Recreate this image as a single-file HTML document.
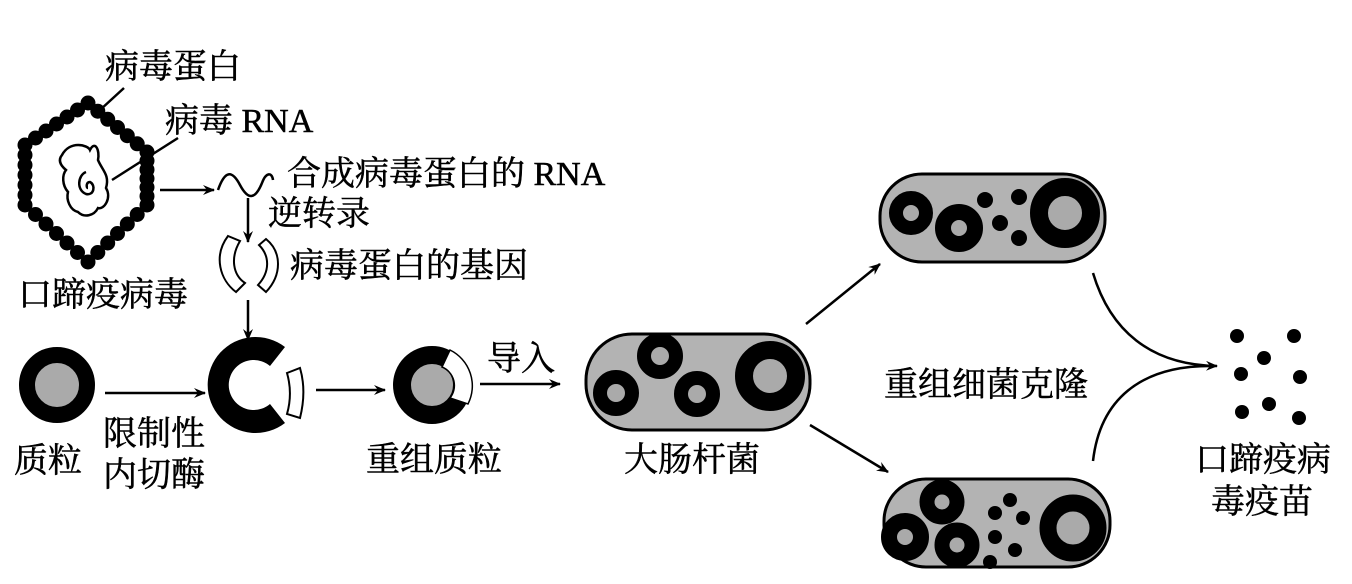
<!DOCTYPE html>
<html><head><meta charset="utf-8"><style>
html,body{margin:0;padding:0;background:#fff;}
svg{display:block;}
text{font-family:"Liberation Serif","Noto Serif CJK SC","Noto Sans CJK SC",serif;font-size:34px;fill:#000;stroke:#000;stroke-width:0.5;}
</style></head><body>
<svg width="1352" height="584" viewBox="0 0 1352 584" xmlns="http://www.w3.org/2000/svg">
<defs>
<marker id="ah" markerWidth="12" markerHeight="10" refX="11" refY="5" orient="auto" markerUnits="userSpaceOnUse">
<path d="M0,0 L12,5 L0,10 L4,5 Z" fill="#000"/>
</marker>
</defs>
<g stroke="#000" stroke-width="2.5" fill="none">
<line x1="100" y1="110" x2="124" y2="88"/>
<line x1="112" y1="180" x2="178" y2="138"/>
<path d="M62,155 C70,140 88,145 90,150 C95,140 100,150 98,160 C102,170 110,175 106,188 C112,198 104,210 98,208 C94,216 84,218 78,212 C70,210 66,200 68,192 C62,185 62,175 66,170 C60,165 58,160 62,155 Z"/>
<path d="M86,172 C78,175 76,190 86,194 C94,196 96,185 90,182 C86,182 86,188 88,188"/>
<line x1="160" y1="190" x2="214" y2="190" marker-end="url(#ah)"/>
<path d="M218,190 C225,170 232,170 240,185 C248,200 255,200 262,183 C266,172 272,172 273,180"/>
<line x1="248" y1="198" x2="248" y2="242" marker-end="url(#ah)"/>
<line x1="248" y1="300" x2="248" y2="340" marker-end="url(#ah)"/>
<line x1="105" y1="393" x2="205" y2="393" marker-end="url(#ah)"/>
<line x1="316" y1="390" x2="385" y2="390" marker-end="url(#ah)"/>
<line x1="480" y1="384" x2="560" y2="384" marker-end="url(#ah)"/>
<line x1="806" y1="324" x2="880" y2="264" marker-end="url(#ah)"/>
<line x1="810" y1="425" x2="888" y2="472" marker-end="url(#ah)"/>
<path d="M1093,273 C1110,330 1150,365 1217,366" marker-end="url(#ah)"/>
<path d="M1093,461 C1100,400 1140,366 1210,366"/>
</g>
<g stroke="#000" stroke-width="2" fill="#fff">
<path d="M228,236 L240,241 C230,258 233,275 245,283 L236,292 C220,280 213,256 228,236 Z"/>
<path d="M266,239 C282,252 282,275 266,292 L258,285 C270,272 270,256 259,245 Z"/>
<path d="M287,373 L300,368 C305,385 304,402 300,418 L287,414 C291,400 291,387 287,373 Z"/>
</g>
<g fill="#000">
<circle cx="88" cy="103" r="7.5"/><circle cx="97.8" cy="111.2" r="7.5"/><circle cx="107.7" cy="119.3" r="7.5"/><circle cx="117.5" cy="127.5" r="7.5"/><circle cx="127.3" cy="135.7" r="7.5"/><circle cx="137.2" cy="143.8" r="7.5"/>
<circle cx="147" cy="152" r="7.5"/><circle cx="147" cy="160.8" r="7.5"/><circle cx="147" cy="169.7" r="7.5"/><circle cx="147" cy="178.5" r="7.5"/><circle cx="147" cy="187.3" r="7.5"/><circle cx="147" cy="196.2" r="7.5"/>
<circle cx="147" cy="205" r="7.5"/><circle cx="137.2" cy="214.5" r="7.5"/><circle cx="127.3" cy="224" r="7.5"/><circle cx="117.5" cy="233.5" r="7.5"/><circle cx="107.7" cy="243" r="7.5"/><circle cx="97.8" cy="252.5" r="7.5"/>
<circle cx="88" cy="262" r="7.5"/><circle cx="77.5" cy="252.5" r="7.5"/><circle cx="67" cy="243" r="7.5"/><circle cx="56.5" cy="233.5" r="7.5"/><circle cx="46" cy="224" r="7.5"/><circle cx="35.5" cy="214.5" r="7.5"/>
<circle cx="25" cy="205" r="7.5"/><circle cx="25" cy="195" r="7.5"/><circle cx="25" cy="185" r="7.5"/><circle cx="25" cy="175" r="7.5"/><circle cx="25" cy="165" r="7.5"/><circle cx="25" cy="155" r="7.5"/>
<circle cx="25" cy="145" r="7.5"/><circle cx="35.5" cy="138" r="7.5"/><circle cx="46" cy="131" r="7.5"/><circle cx="56.5" cy="124" r="7.5"/><circle cx="67" cy="117" r="7.5"/><circle cx="77.5" cy="110" r="7.5"/>
</g>
<circle cx="57" cy="385" r="30" fill="#aaa" stroke="#000" stroke-width="16"/>
<path d="M285,347 A48,48 0 1,0 285,423 L270,404 A25,25 0 1,1 270,366 Z" fill="#000"/>
<circle cx="432" cy="385" r="30" fill="#aaa" stroke="#000" stroke-width="18"/>
<path d="M450,350 A40,40 0 0,1 468,404 L450,398 A20,20 0 0,0 442,367 Z" fill="#fff" stroke="#000" stroke-width="1.5"/>
<rect x="586" y="334" width="224" height="96" rx="46" fill="#b3b3b3" stroke="#000" stroke-width="3"/>
<g fill="#aaa" stroke="#000">
<circle cx="616" cy="393" r="16" stroke-width="14"/>
<circle cx="660" cy="356" r="16" stroke-width="14"/>
<circle cx="697" cy="394" r="16" stroke-width="14"/>
<circle cx="770" cy="376" r="26" stroke-width="18"/>
</g>
<rect x="880" y="174" width="225" height="88" rx="42" fill="#b3b3b3" stroke="#000" stroke-width="3"/>
<g fill="#aaa" stroke="#000">
<circle cx="911" cy="213" r="15" stroke-width="14"/>
<circle cx="959" cy="228" r="16" stroke-width="16"/>
<circle cx="1065" cy="213" r="26" stroke-width="18"/>
</g>
<g fill="#000"><circle cx="985" cy="200" r="8"/><circle cx="1019" cy="197" r="8"/><circle cx="1000" cy="223" r="8"/><circle cx="1019" cy="238" r="8"/></g>
<rect x="884" y="479" width="226" height="88" rx="42" fill="#b3b3b3" stroke="#000" stroke-width="3"/>
<g fill="#aaa" stroke="#000">
<circle cx="942" cy="502" r="15" stroke-width="15"/>
<circle cx="905" cy="537" r="16" stroke-width="16"/>
<circle cx="957" cy="545" r="15" stroke-width="15"/>
<circle cx="1073" cy="528" r="25" stroke-width="17"/>
</g>
<g fill="#000"><circle cx="1010" cy="500" r="7"/><circle cx="995" cy="513" r="7"/><circle cx="1023" cy="518" r="7"/><circle cx="995" cy="537" r="7"/><circle cx="1015" cy="550" r="7"/><circle cx="990" cy="562" r="7"/></g>
<g fill="#000"><circle cx="1237" cy="336" r="7"/><circle cx="1294" cy="336" r="7"/><circle cx="1264" cy="358" r="7"/><circle cx="1241" cy="374" r="7"/><circle cx="1300" cy="377" r="7"/><circle cx="1242" cy="412" r="7"/><circle cx="1269" cy="404" r="7"/><circle cx="1299" cy="418" r="7"/></g>
<text x="105" y="78">病毒蛋白</text>
<text x="165" y="132">病毒 RNA</text>
<text x="287" y="185">合成病毒蛋白的 RNA</text>
<text x="268" y="225">逆转录</text>
<text x="290" y="277">病毒蛋白的基因</text>
<text x="18" y="306">口蹄疫病毒</text>
<text x="14" y="472">质粒</text>
<text x="103" y="445">限制性</text>
<text x="103" y="486">内切酶</text>
<text x="366" y="471">重组质粒</text>
<text x="487" y="370">导入</text>
<text x="624" y="471">大肠杆菌</text>
<text x="884" y="396">重组细菌克隆</text>
<text x="1195" y="471">口蹄疫病</text>
<text x="1211" y="513">毒疫苗</text>
</svg>
</body></html>
